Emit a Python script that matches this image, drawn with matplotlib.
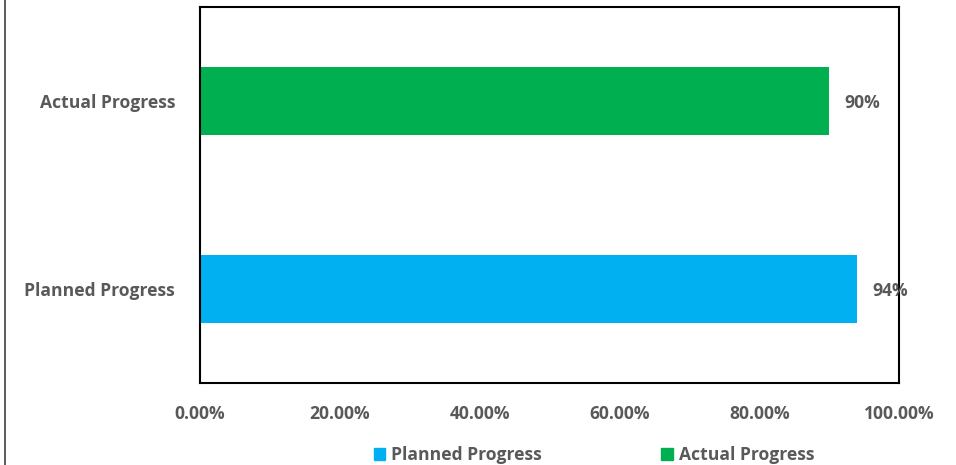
import matplotlib
matplotlib.use('Agg')
from matplotlib import pyplot as plt
from matplotlib.lines import Line2D
from matplotlib.patches import Patch

# data
categories = ['Planned Progress', 'Actual Progress']
values = [0.94, 0.90]
colors = ['#00B0F0', '#00B050']
xticks = [0, 0.2, 0.4, 0.6, 0.8, 1.0]

plt.rcParams['font.family'] = ['Open Sans', 'DejaVu Sans']
grey = '#595959'
fs = 12.6

fig = plt.figure(figsize=(9.56, 4.65), dpi=100)
ax = fig.add_axes([200 / 956, 1 - 383 / 465, 699 / 956, 376 / 465])

ax.barh(range(len(categories)), values, height=0.357, color=colors)
for i, v in enumerate(values):
    ax.annotate('%d%%' % round(v * 100), (v, i), xytext=(11, -1.5),
                textcoords='offset points', ha='left', va='center',
                fontsize=fs, fontweight='bold', color=grey)

ax.set_xlim(0, 1)
ax.set_ylim(-0.5, 1.5)
ax.set_xticks(xticks)
ax.set_xticklabels(['%.2f%%' % (t * 100) for t in xticks])
ax.set_yticks(range(len(categories)))
ax.set_yticklabels(categories)
ax.tick_params(length=0, labelsize=fs, colors=grey, pad=0)
ax.tick_params(axis='x', pad=15.5)
ax.tick_params(axis='y', pad=18)
for lbl in ax.get_xticklabels() + ax.get_yticklabels():
    lbl.set_fontweight('bold')
for s in ax.spines.values():
    s.set_color('black')
    s.set_linewidth(1.5)

handles = [Patch(color=colors[0], label=categories[0]),
           Patch(color=colors[1], label=categories[1])]
leg = fig.legend(handles=handles, loc='center', bbox_to_anchor=(594 / 956, 1 - 455 / 465),
                 ncol=2, frameon=False, handlelength=0.65, handleheight=0.65,
                 handletextpad=0.35, columnspacing=6.8,
                 prop={'size': fs, 'weight': 'bold'})
for t in leg.get_texts():
    t.set_color(grey)

# outer chart border on the left
fig.add_artist(Line2D([5 / 956, 5 / 956], [0, 1], color='#404040', lw=1.2))

fig.savefig('out.png', dpi=100)
